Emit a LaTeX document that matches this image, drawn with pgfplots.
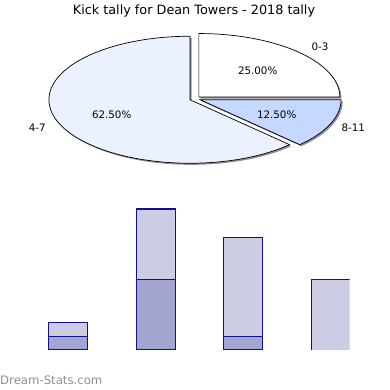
\documentclass[border=0pt]{standalone}
\usepackage{pgfplots}
\pgfplotsset{compat=1.18}
\usepackage{fontspec}
\setmainfont{DejaVu Sans}
\definecolor{barDark}{HTML}{A3A4D0}
\definecolor{barLight}{HTML}{CCCDE4}
\definecolor{barEdge}{HTML}{10108C}
\definecolor{pieA}{HTML}{FFFFFF}
\definecolor{pieB}{HTML}{EBF1FF}
\definecolor{pieC}{HTML}{C6D8FF}
\definecolor{shadowgray}{HTML}{909090}

% pie values (percent): 0-3, 8-11, 4-7 in clockwise order from the top
\def\valA{25}
\def\valC{12.5}
\def\valB{62.5}

\def\cx{195}\def\cy{291.2}
\def\rx{141}\def\ry{63.5}

\newcommand\sliceshadow[2]{%
  \pgfmathsetmacro\mida{(#1+#2)/2}%
  \pgfmathsetmacro\ox{\cx+5.5*cos(\mida)+1.6}%
  \pgfmathsetmacro\oy{\cy+5.5*0.45*sin(\mida)-1.6}%
  \fill[shadowgray] (\ox pt,\oy pt) -- ++(#1:\rx pt and \ry pt)
     arc[start angle=#1,end angle=#2,x radius=\rx pt,y radius=\ry pt] -- cycle;
}
\newcommand\pieslice[3]{%
  \pgfmathsetmacro\mida{(#1+#2)/2}%
  \pgfmathsetmacro\ox{\cx+5.5*cos(\mida)}%
  \pgfmathsetmacro\oy{\cy+5.5*0.45*sin(\mida)}%
  \filldraw[fill=#3,draw=black,line width=0.7pt,line join=miter] (\ox pt,\oy pt) -- ++(#1:\rx pt and \ry pt)
     arc[start angle=#1,end angle=#2,x radius=\rx pt,y radius=\ry pt] -- cycle;
}

\begin{document}
\begin{tikzpicture}[x=1pt,y=1pt]
\useasboundingbox (0,0) rectangle (390,390);

\pgfmathsetmacro\aA{90}
\pgfmathsetmacro\aB{\aA-3.6*\valA}
\pgfmathsetmacro\aC{\aB-3.6*\valC}
\pgfmathsetmacro\aD{\aC-3.6*\valB}

\sliceshadow{\aA}{\aB}
\sliceshadow{\aB}{\aC}
\sliceshadow{\aC}{\aD}
\pieslice{\aA}{\aB}{pieA}
\pieslice{\aB}{\aC}{pieC}
\pieslice{\aC}{\aD}{pieB}

\node[font=\fontsize{12.8}{15}\selectfont] at (194,379.5) {Kick tally for Dean Towers - 2018 tally};
\begin{scope}[font=\fontsize{10.3}{12}\selectfont]
\node at (320,343) {0-3};
\node at (257.7,319.3) {25.00\%};
\node at (111.7,275.7) {62.50\%};
\node at (276.7,275.7) {12.50\%};
\node at (37.3,262.3) {4-7};
\node at (353.3,262.3) {8-11};
\end{scope}
\node[anchor=west,inner sep=0pt,text=shadowgray,font=\fontsize{11.7}{13}\selectfont] at (0,10) {Dream-Stats.com};

\begin{axis}[
  at={(24pt,40pt)}, anchor=south west,
  scale only axis, width=325.5pt, height=148.1pt,
  axis lines=none,
  xmin=-0.5, xmax=3.21, ymin=0.05, ymax=10.5,
  ybar stacked, bar width=39pt,
  clip=true,
]
\addplot[fill=barDark, draw=barEdge, line width=1.1pt] coordinates {(0,1) (1,5) (2,1) (3,0)};
\addplot[fill=barLight, draw=barEdge, line width=1.1pt] coordinates {(0,1) (1,5) (2,7) (3,5)};
\end{axis}
\end{tikzpicture}
\end{document}
